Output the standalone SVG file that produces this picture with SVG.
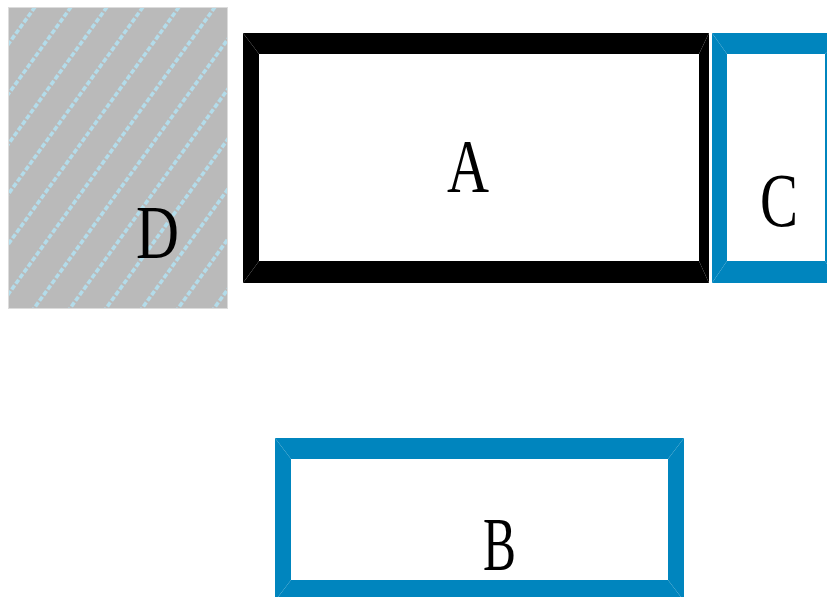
<svg xmlns="http://www.w3.org/2000/svg" width="827" height="597" viewBox="0 0 827 597">
  <style>
    .lbl { font-family: "Liberation Serif", "DejaVu Serif", serif; font-size: 76px; fill: #000; }
    .blk { fill: #000; }
    .blu { fill: #0085be; }
    .hatch { stroke: #b3dcea; stroke-width: 3.6; stroke-dasharray: 5 2; fill: none; }
  </style>
  <defs>
    <clipPath id="dclip">
      <rect x="8" y="7" width="220" height="302"/>
    </clipPath>
  </defs>
  <rect width="827" height="597" fill="#fff"/>

  <g id="D">
    <rect x="8" y="7" width="220" height="302" fill="#bababa"/>
    <g clip-path="url(#dclip)">
      <path class="hatch" d="M-1,7 L-218.4,309 M35,7 L-182.4,309 M71,7 L-146.4,309 M107,7 L-110.4,309 M143,7 L-74.4,309 M179,7 L-38.4,309 M215,7 L-2.4,309 M251,7 L33.6,309 M287,7 L69.6,309 M323,7 L105.6,309 M359,7 L141.6,309 M395,7 L177.6,309 M431,7 L213.6,309 M467,7 L249.6,309"/>
    </g>
    <rect x="8.5" y="7.5" width="219" height="301" fill="none" stroke="#dcdcdc" stroke-width="1"/>
    <text class="lbl" x="136" y="258" textLength="43" lengthAdjust="spacingAndGlyphs">D</text>
  </g>

  <g id="A">
    <polygon class="blk" points="243,33 709,33 699,54 259,54"/>
    <polygon class="blk" points="709,33 709,283 699,261 699,54"/>
    <polygon class="blk" points="709,283 243,283 259,261 699,261"/>
    <polygon class="blk" points="243,283 243,33 259,54 259,261"/>
    <text class="lbl" x="447" y="192" textLength="42" lengthAdjust="spacingAndGlyphs">A</text>
  </g>

  <g id="C">
    <polygon class="blu" points="712,33 840,33 825,54 727,54"/>
    <polygon class="blu" points="840,33 840,283 825,261 825,54"/>
    <polygon class="blu" points="840,283 712,283 727,261 825,261"/>
    <polygon class="blu" points="712,283 712,33 727,54 727,261"/>
    <text class="lbl" x="760" y="226" textLength="38" lengthAdjust="spacingAndGlyphs">C</text>
  </g>

  <g id="B">
    <polygon class="blu" points="275,438 684,438 668,459 291,459"/>
    <polygon class="blu" points="684,438 684,601 668,580 668,459"/>
    <polygon class="blu" points="684,601 275,601 291,580 668,580"/>
    <polygon class="blu" points="275,601 275,438 291,459 291,580"/>
    <text class="lbl" x="483" y="570" textLength="33" lengthAdjust="spacingAndGlyphs">B</text>
  </g>

  <g id="connectors"/>
</svg>
